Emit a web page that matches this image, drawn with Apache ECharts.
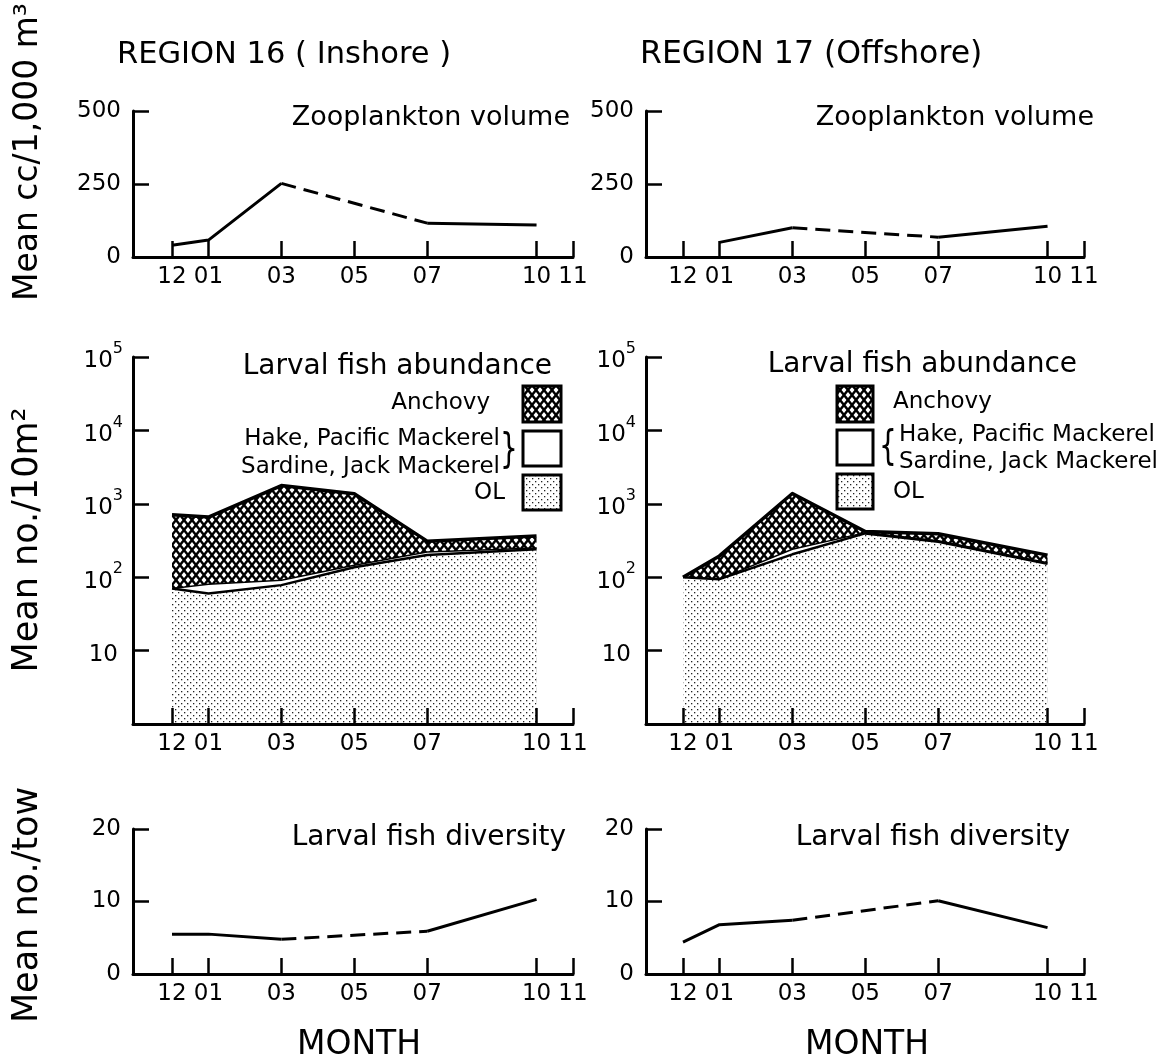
<!DOCTYPE html>
<html><head><meta charset="utf-8">
<script src="https://cdn.jsdelivr.net/npm/echarts@6/dist/echarts.min.js"></script>
<style>html,body{margin:0;padding:0;background:#fff}#c{width:1160px;height:1061px}</style>
</head><body><div id="c"></div>
<script>
// ---- data (month position: 12 = Dec = 0, 01 = Jan = 1, ...) ----
const monthTicks = [0, 1, 3, 5, 7, 10, 11];
const monthLabels = ['12', '01', '03', '05', '07', '10', '11'];

// Zooplankton volume (cc / 1,000 m3)
const zooMonths16 = [0, 1, 3, 7, 10];
const zooVol16 = [40, 58, 252, 116, 110];
const zooDash16 = [false, false, true, false];
const zooMonths17 = [1, 3, 7, 10];
const zooVol17 = [50, 100, 68, 105];
const zooDash17 = [false, true, false];

// Larval fish abundance (no./10 m2)
const larvMonths = [0, 1, 3, 5, 7, 10];
const ol16 = [70, 60, 78, 137, 200, 240];
const hake16 = [0, 20, 13, 8, 20, 10];
const anch16 = [638, 580, 1680, 1225, 90, 115];
const ol17 = [100, 94, 205, 395, 305, 152];
const hake17 = [0, 0, 35, 10, 10, 6];
const anch17 = [0, 101, 1140, 15, 75, 42];

// Larval fish diversity (no./tow)
const divMonths16 = [0, 1, 3, 7, 10];
const div16 = [5.5, 5.5, 4.8, 5.9, 10.3];
const divDash16 = [false, false, true, false];
const divMonths17 = [0, 1, 3, 7, 10];
const div17 = [4.4, 6.8, 7.4, 10.1, 6.4];
const divDash17 = [false, false, true, false];

// ---- patterns ----
function hatchCanvas() {
  const c = document.createElement('canvas'); c.width = 8; c.height = 10;
  const g = c.getContext('2d');
  g.fillStyle = '#fff'; g.fillRect(0, 0, 8, 10);
  g.strokeStyle = '#000'; g.lineWidth = 2.4;
  g.beginPath();
  g.moveTo(-4, -5); g.lineTo(12, 15);
  g.moveTo(12, -5); g.lineTo(-4, 15);
  g.stroke();
  return c;
}
function dotCanvas() {
  const c = document.createElement('canvas'); c.width = 6; c.height = 6;
  const g = c.getContext('2d');
  g.fillStyle = '#fff'; g.fillRect(0, 0, 6, 6);
  g.fillStyle = '#222';
  g.fillRect(1, 1, 1.3, 1.3); g.fillRect(4, 4, 1.3, 1.3);
  return c;
}
const hatch = { image: hatchCanvas(), repeat: 'repeat' };
const dots = { image: dotCanvas(), repeat: 'repeat' };

const FONT = 'DejaVu Sans';
const gridsPos = [
  { left: 133, top: 111, width: 440, height: 146 },
  { left: 646, top: 111, width: 438, height: 146 },
  { left: 133, top: 357, width: 440, height: 367 },
  { left: 646, top: 357, width: 438, height: 367 },
  { left: 133, top: 829, width: 440, height: 145 },
  { left: 646, top: 829, width: 438, height: 145 }
];
const xMins = [-1.07, -1.015, -1.07, -1.015, -1.07, -1.015];

const xAxes = gridsPos.map((g, i) => ({
  type: 'value', gridIndex: i, min: xMins[i], max: 11, z: 10,
  axisLine: { show: true, onZero: false, lineStyle: { color: '#000', width: 3 } },
  axisTick: { show: true, inside: true, length: 16, customValues: monthTicks, lineStyle: { color: '#000', width: 2.5 } },
  axisLabel: { show: true, customValues: monthTicks, formatter: v => monthLabels[monthTicks.indexOf(v)], color: '#000', fontSize: 23, fontFamily: FONT, margin: 9 },
  splitLine: { show: false }
}));

function linY(i, max, interval) {
  return {
    type: 'value', gridIndex: i, min: 0, max: max, interval: interval, z: 10,
    axisLine: { show: true, onZero: false, lineStyle: { color: '#000', width: 3 } },
    axisTick: { show: true, inside: true, length: 16, lineStyle: { color: '#000', width: 2.5 } },
    axisLabel: { color: '#000', fontSize: 23, fontFamily: FONT, margin: 12 },
    splitLine: { show: false }
  };
}
function logY(i) {
  return {
    type: 'log', gridIndex: i, min: 1, max: 100000, logBase: 10, z: 10,
    axisLine: { show: true, onZero: false, lineStyle: { color: '#000', width: 3 } },
    axisTick: { show: true, inside: true, length: 16, lineStyle: { color: '#000', width: 2.5 } },
    axisLabel: {
      color: '#000', fontSize: 23, fontFamily: FONT, margin: 10,
      formatter: v => {
        const e = Math.round(Math.log10(v));
        if (e === 0) return '';
        if (e === 1) return '{b|10}{s| }';
        return '{b|10}{s|' + e + '}';
      },
      rich: {
        b: { fontSize: 23, fontFamily: FONT, color: '#000', lineHeight: 32, verticalAlign: 'bottom' },
        s: { fontSize: 16, fontFamily: FONT, color: '#000', lineHeight: 32, verticalAlign: 'top' }
      }
    },
    splitLine: { show: false }
  };
}
const yAxes = [linY(0, 500, 250), linY(1, 500, 250), logY(2), logY(3), linY(4, 20, 10), linY(5, 20, 10)];

function segSeries(months, vals, dash, gi) {
  const out = [];
  let start = 0;
  for (let i = 1; i <= dash.length; i++) {
    if (i === dash.length || dash[i] !== dash[start]) {
      const pts = [];
      for (let k = start; k <= i; k++) pts.push([months[k], vals[k]]);
      out.push({
        type: 'line', xAxisIndex: gi, yAxisIndex: gi, data: pts, symbol: 'none', silent: true, z: 3,
        lineStyle: { color: '#000', width: 3, type: dash[start] ? [15, 8] : 'solid', cap: 'butt', join: 'round' }
      });
      start = i;
    }
  }
  return out;
}

function abundanceSeries(ol, hake, anch, gi) {
  const hakeTop = ol.map((v, i) => v + hake[i]);
  const total = hakeTop.map((v, i) => v + anch[i]);
  const mk = (vals, fill, lw, z) => ({
    type: 'line', xAxisIndex: gi, yAxisIndex: gi, symbol: 'none', silent: true, z: z,
    data: larvMonths.map((m, i) => [m, vals[i]]),
    lineStyle: { color: '#000', width: lw, join: 'round' },
    areaStyle: { color: fill, opacity: 1, origin: 'start' }
  });
  return [mk(total, hatch, 3.5, 2), mk(hakeTop, '#fff', 1.5, 3), mk(ol, dots, 2.5, 4)];
}

const series = [].concat(
  segSeries(zooMonths16, zooVol16, zooDash16, 0),
  segSeries(zooMonths17, zooVol17, zooDash17, 1),
  abundanceSeries(ol16, hake16, anch16, 2),
  abundanceSeries(ol17, hake17, anch17, 3),
  segSeries(divMonths16, div16, divDash16, 4),
  segSeries(divMonths17, div17, divDash17, 5)
);

function txt(t, x, y, size, align, extra) {
  return Object.assign({
    type: 'text', x: x, y: y, silent: true, z: 100,
    style: { text: t, font: size + 'px "' + FONT + '"', fill: '#000', align: align || 'left', verticalAlign: 'middle' }
  }, extra || {});
}
function brace(t, x, y) {
  return { type: 'text', x: x, y: y, silent: true, z: 100, scaleX: 0.7,
    style: { text: t, font: '40px "' + FONT + '"', fill: '#000', align: 'center', verticalAlign: 'middle' } };
}
function box(x, y, w, h, fill) {
  return { type: 'rect', silent: true, z: 100, shape: { x: x, y: y, width: w, height: h }, style: { fill: fill, stroke: '#000', lineWidth: 3 } };
}

const graphics = [
  txt('REGION 16 ( Inshore )', 117, 55, 30.5, 'left'),
  txt('REGION 17 (Offshore)', 640, 55, 31.5, 'left'),
  txt('Mean cc/1,000 m³', 28, 152, 33, 'center', { rotation: Math.PI / 2 }),
  txt('Mean no./10m²', 28, 540, 35, 'center', { rotation: Math.PI / 2 }),
  txt('Mean no./tow', 28, 905, 35, 'center', { rotation: Math.PI / 2 }),
  txt('Zooplankton volume', 570, 118, 27, 'right'),
  txt('Zooplankton volume', 1094, 118, 27, 'right'),
  txt('Larval fish abundance', 552, 367, 28, 'right'),
  txt('Larval fish abundance', 1077, 365, 28, 'right'),
  txt('Larval fish diversity', 566, 838, 28, 'right'),
  txt('Larval fish diversity', 1070, 838, 28, 'right'),
  txt('MONTH', 359, 1045, 33, 'center'),
  txt('MONTH', 867, 1045, 33, 'center'),
  // legend left
  box(523, 386, 38, 36, hatch),
  box(523, 431, 38, 35, '#fff'),
  box(523, 475, 38, 35, dots),
  txt('Anchovy', 490, 403, 23, 'right'),
  txt('Hake, Pacific Mackerel', 500, 439, 23, 'right'),
  txt('Sardine, Jack Mackerel', 500, 467, 23, 'right'),
  brace('}', 509, 452),
  txt('OL', 505, 493, 23, 'right'),
  // legend right
  box(837, 386, 36, 36, hatch),
  box(837, 430, 36, 35, '#fff'),
  box(837, 474, 36, 35, dots),
  txt('Anchovy', 893, 402, 23, 'left'),
  txt('Hake, Pacific Mackerel', 899, 435, 23, 'left'),
  txt('Sardine, Jack Mackerel', 899, 462, 23, 'left'),
  brace('{', 888, 449),
  txt('OL', 893, 492, 23, 'left')
];

const chart = echarts.init(document.getElementById('c'), null, { renderer: 'canvas' });
chart.setOption({
  animation: false,
  backgroundColor: '#fff',
  grid: gridsPos.map(g => Object.assign({ containLabel: false }, g)),
  xAxis: xAxes,
  yAxis: yAxes,
  series: series,
  graphic: graphics
});
</script>
</body></html>
